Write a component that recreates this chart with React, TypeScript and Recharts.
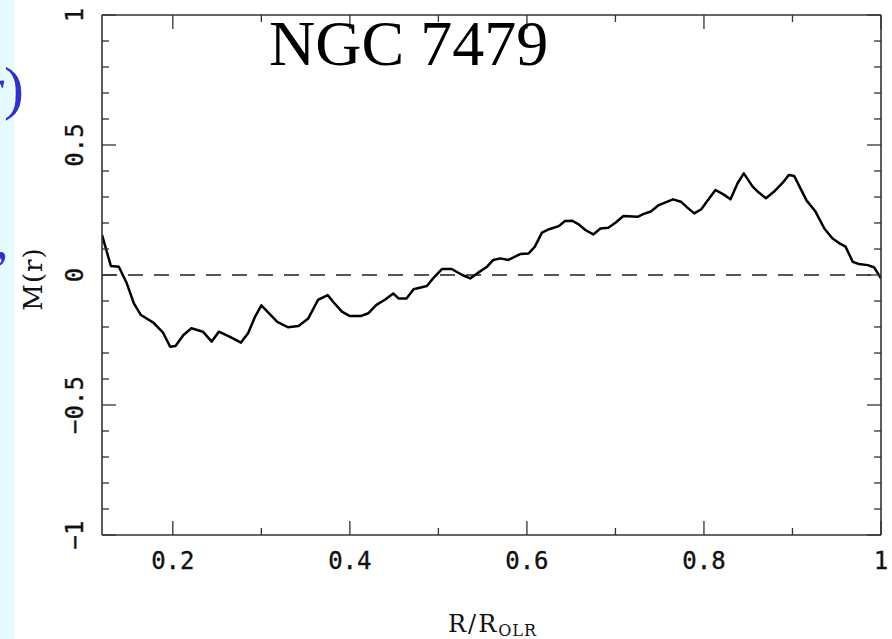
import React from "react";
import { LineChart, Line, XAxis, YAxis, ReferenceLine } from "recharts";

// R / R_OLR
const rOlr = [
  0.12, 0.13, 0.139, 0.148, 0.156, 0.164, 0.178, 0.189, 0.197, 0.203,
  0.212, 0.221, 0.234, 0.244, 0.252, 0.264, 0.277, 0.285, 0.293, 0.3,
  0.318, 0.33, 0.342, 0.353, 0.364, 0.375, 0.381, 0.391, 0.4, 0.412,
  0.421, 0.43, 0.44, 0.449, 0.455, 0.464, 0.472, 0.487, 0.494, 0.504,
  0.515, 0.527, 0.536, 0.545, 0.555, 0.562, 0.57, 0.579, 0.593, 0.602,
  0.609, 0.617, 0.625, 0.636, 0.643, 0.651, 0.658, 0.666, 0.675, 0.683,
  0.692, 0.7, 0.709, 0.725, 0.732, 0.74, 0.749, 0.765, 0.774, 0.781,
  0.789, 0.797, 0.806, 0.813, 0.822, 0.83, 0.838, 0.845, 0.855, 0.862,
  0.87, 0.879, 0.889, 0.896, 0.902, 0.909, 0.916, 0.926, 0.936, 0.945,
  0.953, 0.96, 0.968, 0.975, 0.985, 0.992, 1.0,
];

// M(r)
const mValues = [
  0.154, 0.035, 0.032, -0.032, -0.109, -0.154, -0.183, -0.222, -0.276, -0.273,
  -0.231, -0.205, -0.218, -0.256, -0.218, -0.237, -0.26, -0.224, -0.16, -0.117,
  -0.18, -0.201, -0.196, -0.167, -0.096, -0.077, -0.103, -0.141, -0.158, -0.158,
  -0.147, -0.115, -0.094, -0.071, -0.09, -0.09, -0.055, -0.042, -0.013, 0.023,
  0.023, 0.0, -0.013, 0.009, 0.032, 0.058, 0.064, 0.058, 0.081, 0.083,
  0.109, 0.163, 0.176, 0.188, 0.208, 0.209, 0.196, 0.173, 0.156, 0.179,
  0.182, 0.201, 0.227, 0.224, 0.235, 0.244, 0.269, 0.291, 0.282, 0.26,
  0.237, 0.253, 0.295, 0.327, 0.31, 0.291, 0.353, 0.391, 0.34, 0.317,
  0.295, 0.32, 0.355, 0.385, 0.381, 0.333, 0.286, 0.244, 0.179, 0.141,
  0.122, 0.109, 0.051, 0.042, 0.038, 0.03, -0.013,
];

const xTicks = [0.2, 0.3, 0.4, 0.5, 0.6, 0.7, 0.8, 0.9, 1.0];
const xMajorLabels: Record<string, string> = { "0.2": "0.2", "0.4": "0.4", "0.6": "0.6", "0.8": "0.8", "1": "1" };
const yTicks = [-1, -0.9, -0.8, -0.7, -0.6, -0.5, -0.4, -0.3, -0.2, -0.1, 0, 0.1, 0.2, 0.3, 0.4, 0.5, 0.6, 0.7, 0.8, 0.9, 1];
const yMajorLabels: Record<string, string> = { "-1": "\u22121", "-0.5": "\u22120.5", "0": "0", "0.5": "0.5", "1": "1" };

const title = "NGC 7479";
const xLabelMain = "R/R";
const xLabelSub = "OLR";
const yLabel = "M(r)";

const data = rOlr.map((x, i) => ({ x, m: mValues[i] }));

const W = 892;
const H = 639;
const LEFT = 102;
const RIGHT = 881;
const TOP = 15;
const BOTTOM = 535;
const MAJOR = 14;
const MINOR = 7;
const FRAME = "#333";
const TICKFONT = "'DejaVu Sans Mono', monospace";

const keyOf = (v: number) => String(Math.round(v * 10) / 10);

const BottomTick = (props: any) => {
  const { x, payload } = props;
  const k = keyOf(payload.value);
  const lbl = xMajorLabels[k];
  const len = lbl !== undefined ? MAJOR : MINOR;
  return (
    <g>
      <line x1={x} x2={x} y1={BOTTOM} y2={BOTTOM - len} stroke={FRAME} strokeWidth={1.3} />
      {lbl !== undefined && (
        <text x={x} y={569} textAnchor="middle" fontFamily={TICKFONT} fontSize={24} fill="#111" stroke="#111" strokeWidth={0.35}>
          {lbl}
        </text>
      )}
    </g>
  );
};

const TopTick = (props: any) => {
  const { x, payload } = props;
  const k = keyOf(payload.value);
  const len = xMajorLabels[k] !== undefined ? MAJOR : MINOR;
  return <line x1={x} x2={x} y1={TOP} y2={TOP + len} stroke={FRAME} strokeWidth={1.3} />;
};

const LeftTick = (props: any) => {
  const { y, payload } = props;
  const k = keyOf(payload.value);
  const lbl = yMajorLabels[k];
  const len = lbl !== undefined ? MAJOR : MINOR;
  return (
    <g>
      <line x1={LEFT} x2={LEFT + len} y1={y} y2={y} stroke={FRAME} strokeWidth={1.3} />
      {lbl !== undefined && (
        <text
          x={83}
          y={y}
          transform={`rotate(-90, 83, ${y})`}
          textAnchor="middle"
          fontFamily={TICKFONT}
          fontSize={24}
          fill="#111"
          stroke="#111"
          strokeWidth={0.35}
        >
          {lbl}
        </text>
      )}
    </g>
  );
};

const RightTick = (props: any) => {
  const { y, payload } = props;
  const k = keyOf(payload.value);
  const len = yMajorLabels[k] !== undefined ? MAJOR : MINOR;
  return <line x1={RIGHT} x2={RIGHT - len} y1={y} y2={y} stroke={FRAME} strokeWidth={1.3} />;
};

export default function App() {
  return (
    <div style={{ position: "absolute", left: 0, top: 0, width: W, height: H, background: "#ffffff", overflow: "hidden" }}>
      <div style={{ position: "absolute", left: 0, top: 0, width: 14, height: H, background: "#e6fbff" }} />
      <div style={{ position: "absolute", left: 0, top: 0 }}>
        <LineChart
          width={W}
          height={H}
          data={data}
          margin={{ top: TOP - 1, right: W - RIGHT - 1, bottom: H - BOTTOM - 1, left: LEFT - 1 }}
        >
          <XAxis
            xAxisId="b"
            dataKey="x"
            type="number"
            domain={[0.12, 1]}
            allowDataOverflow
            ticks={xTicks}
            height={1}
            tickSize={0}
            tickMargin={0}
            tickLine={false}
            axisLine={{ stroke: FRAME, strokeWidth: 1.6 }}
            tick={<BottomTick />}
            interval={0}
          />
          <XAxis
            xAxisId="t"
            orientation="top"
            dataKey="x"
            type="number"
            domain={[0.12, 1]}
            allowDataOverflow
            ticks={xTicks}
            height={1}
            tickSize={0}
            tickMargin={0}
            tickLine={false}
            axisLine={{ stroke: FRAME, strokeWidth: 1.6 }}
            tick={<TopTick />}
            interval={0}
          />
          <YAxis
            yAxisId="l"
            type="number"
            domain={[-1, 1]}
            allowDataOverflow
            ticks={yTicks}
            width={1}
            tickSize={0}
            tickMargin={0}
            tickLine={false}
            axisLine={{ stroke: FRAME, strokeWidth: 1.6 }}
            tick={<LeftTick />}
            interval={0}
          />
          <YAxis
            yAxisId="r"
            orientation="right"
            type="number"
            domain={[-1, 1]}
            allowDataOverflow
            ticks={yTicks}
            width={1}
            tickSize={0}
            tickMargin={0}
            tickLine={false}
            axisLine={{ stroke: FRAME, strokeWidth: 1.6 }}
            tick={<RightTick />}
            interval={0}
          />
          <ReferenceLine
            xAxisId="b"
            yAxisId="l"
            y={0}
            stroke="#555"
            strokeWidth={2}
            strokeDasharray="15 11"
          />
          <Line
            xAxisId="b"
            yAxisId="l"
            type="linear"
            dataKey="m"
            stroke="#000"
            strokeWidth={2.5}
            strokeLinejoin="round"
            dot={false}
            isAnimationActive={false}
          />
        </LineChart>
      </div>
      <svg
        width={W}
        height={H}
        style={{ position: "absolute", left: 0, top: 0, pointerEvents: "none" }}
      >
        <text x={269} y={65} fontFamily="'Liberation Serif', serif" fontSize={64} fill="#000">
          {title}
        </text>
        <text x={448} y={632} fontFamily="'DejaVu Serif', serif" fontSize={24} fill="#111" letterSpacing={2}>
          {xLabelMain}
          <tspan fontSize={16} dy={4} letterSpacing={1}>{xLabelSub}</tspan>
        </text>
        <text
          x={42}
          y={279}
          transform="rotate(-90, 42, 279)"
          textAnchor="middle"
          fontFamily="'DejaVu Serif', serif"
          fontSize={26}
          letterSpacing={1}
          fill="#111"
        >
          {yLabel}
        </text>
        <text x={24} y={108} textAnchor="end" fontFamily="'Liberation Serif', serif" fontSize={60} fill="#3232c8">
          <tspan fontStyle="italic">r</tspan>)
        </text>
        <text x={-6} y={258} fontFamily="'Liberation Serif', serif" fontSize={60} fill="#3232c8">
          ,
        </text>
      </svg>
    </div>
  );
}
